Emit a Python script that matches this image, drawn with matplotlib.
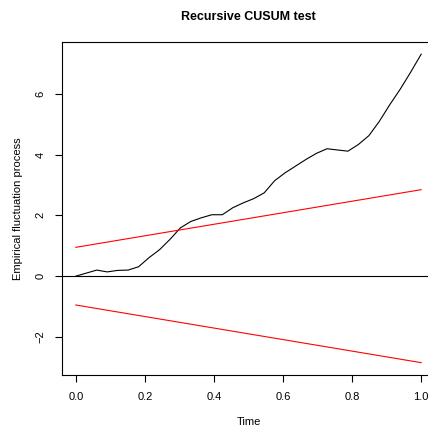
import matplotlib
matplotlib.use('Agg')
import matplotlib.pyplot as plt

plt.rcParams['font.family'] = ['Liberation Sans', 'DejaVu Sans']

# Recursive CUSUM process
time = [0.0, 0.0606, 0.0909, 0.1212, 0.1515, 0.1818, 0.2121, 0.2424, 0.2727,
        0.3030, 0.3333, 0.3636, 0.3939, 0.4242, 0.4545, 0.4848, 0.5152,
        0.5455, 0.5758, 0.6061, 0.6364, 0.6667, 0.6970, 0.7273, 0.7576,
        0.7879, 0.8182, 0.8485, 0.8788, 0.9091, 0.9394, 0.9697, 1.0]
process = [0.0, 0.20, 0.14, 0.19, 0.20, 0.31, 0.61, 0.87, 1.21, 1.59, 1.80,
           1.92, 2.02, 2.02, 2.25, 2.41, 2.55, 2.74, 3.14, 3.40, 3.62, 3.84,
           4.04, 4.19, 4.15, 4.11, 4.33, 4.62, 5.09, 5.64, 6.15, 6.71, 7.30]

# 5% boundaries at start and end
bound_t = [0.0, 1.0]
bound_upper = [0.948, 2.844]
bound_lower = [-0.948, -2.844]

W = H = 428
fig = plt.figure(figsize=(W / 100, H / 100), dpi=100)
ax = fig.add_axes([62 / W, 1 - 375 / H, 373 / W, 333 / H])

ax.plot(time, process, color='black', lw=0.8)
ax.plot(bound_t, bound_upper, color='red', lw=0.8)
ax.plot(bound_t, bound_lower, color='red', lw=0.8)
ax.axhline(0, color='black', lw=0.8)

ax.set_xlim(-0.04, 1.04)
ax.set_ylim(-3.25, 7.70)
ax.set_xticks([0.0, 0.2, 0.4, 0.6, 0.8, 1.0])
ax.set_xticklabels(['0.0', '0.2', '0.4', '0.6', '0.8', '1.0'])
ax.set_yticks([-2, 0, 2, 4, 6])
ax.set_yticklabels(['\u22122', '0', '2', '4', '6'], rotation=90, va='center')

for s in ax.spines.values():
    s.set_linewidth(0.8)
ax.tick_params(direction='out', length=5, width=0.8, labelsize=8, pad=7)

ax.set_xlabel('Time', fontsize=8, labelpad=11)
ax.set_ylabel('Empirical fluctuation process', fontsize=8, labelpad=9)
fig.text(248 / W, 1 - 17 / H, 'Recursive CUSUM test', fontsize=9,
         fontweight='bold', ha='center', va='center')

fig.savefig('out.png', dpi=100)
